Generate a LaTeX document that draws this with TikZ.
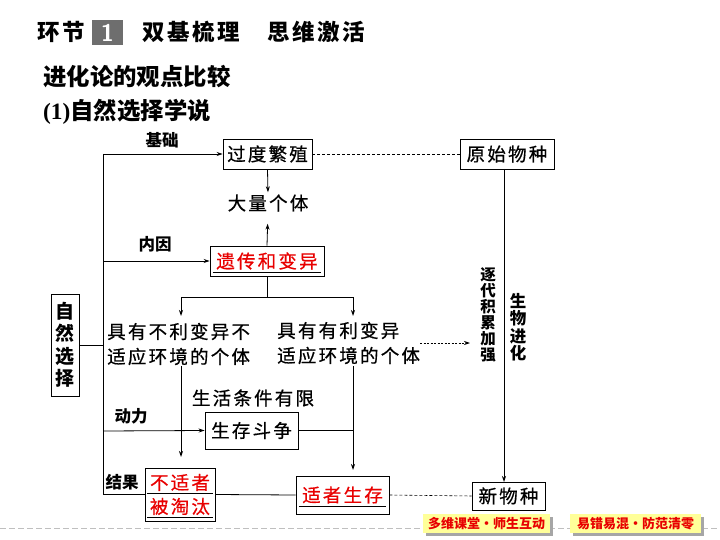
\documentclass[tikz,border=0pt]{standalone}
\usepackage{fontspec}
\setmainfont{Liberation Serif}
\newfontfamily\cjk{Noto Sans CJK SC}[LetterSpace=12,FakeBold=0.6]
\newfontfamily\cjkn{Noto Sans CJK SC}
\newfontfamily\cjkt{Noto Sans CJK SC}[LetterSpace=12]
\usetikzlibrary{arrows.meta,calc}
\definecolor{myred}{RGB}{232,0,0}
\definecolor{btny}{RGB}{255,255,153}
\definecolor{tgray}{RGB}{110,110,110}
\begin{document}
\begin{tikzpicture}[x=1pt,y=-1pt,
  box/.style={draw, line width=0.9pt, inner sep=0pt, font=\fontsize{18.5}{20}\selectfont\cjk},
  txt/.style={inner sep=0pt, font=\fontsize{18.5}{25}\selectfont\cjk},
  lbl/.style={inner sep=0pt, font=\fontsize{16.5}{17}\selectfont\cjkn\bfseries},
  ttl/.style={inner sep=0pt, anchor=west, font=\fontsize{22.5}{24}\selectfont\cjkt\bfseries},
  arr/.style={line width=0.8pt, -{Stealth[length=6pt,width=4pt]}},
  ln/.style={line width=0.8pt},
  dsh/.style={line width=0.6pt, dash pattern=on 3pt off 2pt},
  btn/.style={fill=btny, inner sep=0pt, minimum width=127, minimum height=19, text=myred, font=\fontsize{13}{15}\selectfont\cjkn\bfseries}
]
\useasboundingbox (0,0) rectangle (720,540);
\fill[white] (0,0) rectangle (720,540);

% title
\node[ttl] (t1) at (37,32) {环节};
\node[fill=tgray, text=white, inner sep=0pt, minimum width=31, minimum height=25, font=\fontsize{24}{26}\selectfont\sffamily\bfseries] (t2) at (107.5,32.5) {1};
\node[ttl] (t3) at (142,32) {双基梳理};
\node[ttl] (t4) at (267,32) {思维激活};
\node[inner sep=0pt, anchor=west, font=\fontsize{23.4}{25}\selectfont\cjkn\bfseries] (h1) at (43,77) {进化论的观点比较};
\node[inner sep=0pt, anchor=west, font=\fontsize{23.4}{25}\selectfont\bfseries] (h2) at (43,112) {(1)\cjkn 自然选择学说};

% boxes and texts
\node[box, minimum width=89, minimum height=30] (guo) at (267.5,154) {过度繁殖};
\node[box, minimum width=94, minimum height=30] (yuan) at (507,154) {原始物种};
\node[txt] (dl) at (268,203) {大量个体};
\node[box, text=myred, minimum width=114, minimum height=30] (yc) at (267,261) {遗传和变异};
\draw[line width=0.9pt] ($(yc.south west)+(3,-4)$) -- ($(yc.south east)+(-3,-4)$);
\node[txt, anchor=west, align=left] (buli) at (107,344) {具有不利变异不\\适应环境的个体};
\node[txt, anchor=west, align=left] (youli) at (277,343) {具有有利变异\\适应环境的个体};
\node[box, minimum width=28, minimum height=102, align=center, font=\fontsize{19}{22.5}\selectfont\cjkn\bfseries] (zr) at (65,345) {自\\然\\选\\择};
\node[txt] (sh) at (253,398) {生活条件有限};
\node[box, minimum width=93, minimum height=37] (dz) at (251.5,430.5) {生存斗争};
\node[box, text=myred, minimum width=70, minimum height=53, align=center, font=\fontsize{18.5}{24}\selectfont\cjk] (bs) at (180,494.5) {不适者\\被淘汰};
\draw[line width=0.8pt] (147,493) -- (213,493);
\draw[line width=0.8pt] (147,517) -- (213,517);
\node[box, text=myred, minimum width=93, minimum height=38] (sz) at (342.5,495) {适者生存};
\draw[line width=0.9pt] (299,506) -- (386,506);
\node[box, minimum width=73, minimum height=28] (xin) at (508.5,496) {新物种};

% labels
\node[lbl] (jc) at (162,140) {基础};
\node[lbl] (ny) at (155,244) {内因};
\node[lbl] (dli) at (131,416) {动力};
\node[lbl] (jg) at (122,482) {结果};
\node[lbl, align=center, font=\fontsize{15.5}{16}\selectfont\cjkn\bfseries] (zd) at (488,315) {逐\\代\\积\\累\\加\\强};
\node[lbl, align=center, font=\fontsize{16.5}{17.5}\selectfont\cjkn\bfseries] (sw) at (518,327) {生\\物\\进\\化};

% coordinates
\coordinate (L0) at (103,154);
\coordinate (L1) at (103,261);
\coordinate (L2) at (103,345);
\coordinate (L3) at (103,431);
\coordinate (L4) at (103,494.5);
\coordinate (Bl) at (181,297);
\coordinate (Br) at (353,297);
\coordinate (Bl2) at (181,316);
\coordinate (Br2) at (353,316);
\coordinate (Bl3) at (181,366);
\coordinate (Br3) at (353,366);
\coordinate (Bl4) at (181,457);
\coordinate (Br4) at (353,470);
\coordinate (V1) at (504,169);
\coordinate (V2) at (504,482);
\coordinate (D1) at (470,343);

% connectors
\draw[ln] (L0) -- (L4) -- (bs.west);
\draw[arr] (L0) -- (guo.west);
\draw[arr] (L1) -- (yc.west);
\draw[ln] (zr.east) -- (L2);
\draw[arr] (L3) -- (dz.west);
\draw[arr, shorten >=2pt] (guo.south) -- (dl.north);
\draw[arr, shorten >=12pt] (yc.north) -- (dl.south);
\draw[ln] (yc.south) -- (yc.south |- Bl);
\draw[ln] (Bl) -- (Br);
\draw[arr] (Bl) -- (Bl2);
\draw[arr] (Br) -- (Br2);
\draw[arr] (Bl3) -- (Bl4);
\draw[arr] (Br3) -- (Br4);
\draw[ln] (dz.east) -- (dz.east -| Br);
\draw[ln] (bs.east) -- (sz.west);
\draw[dsh] (sz.east) -- (xin.west);
\draw[dsh] (guo.east) -- (yuan.west);
\draw[line width=0.8pt, dash pattern=on 2pt off 1.5pt, -{Stealth[length=6pt,width=4pt]}] (youli.east) -- (D1);
\draw[arr] (V1) -- (V2);

% bottom
\draw[black!25, line width=0.8pt, dash pattern=on 6pt off 3pt] (0,528) -- (720,528);
\fill[black!35] (426,517) rectangle (553,536);
\fill[black!35] (573,517) rectangle (704,536);
\node[btn] (b1) at (486.5,523.5) {多维课堂·师生互动};
\node[btn, minimum width=131] (b2) at (635.5,523.5) {易错易混·防范清零};
\end{tikzpicture}
\end{document}
